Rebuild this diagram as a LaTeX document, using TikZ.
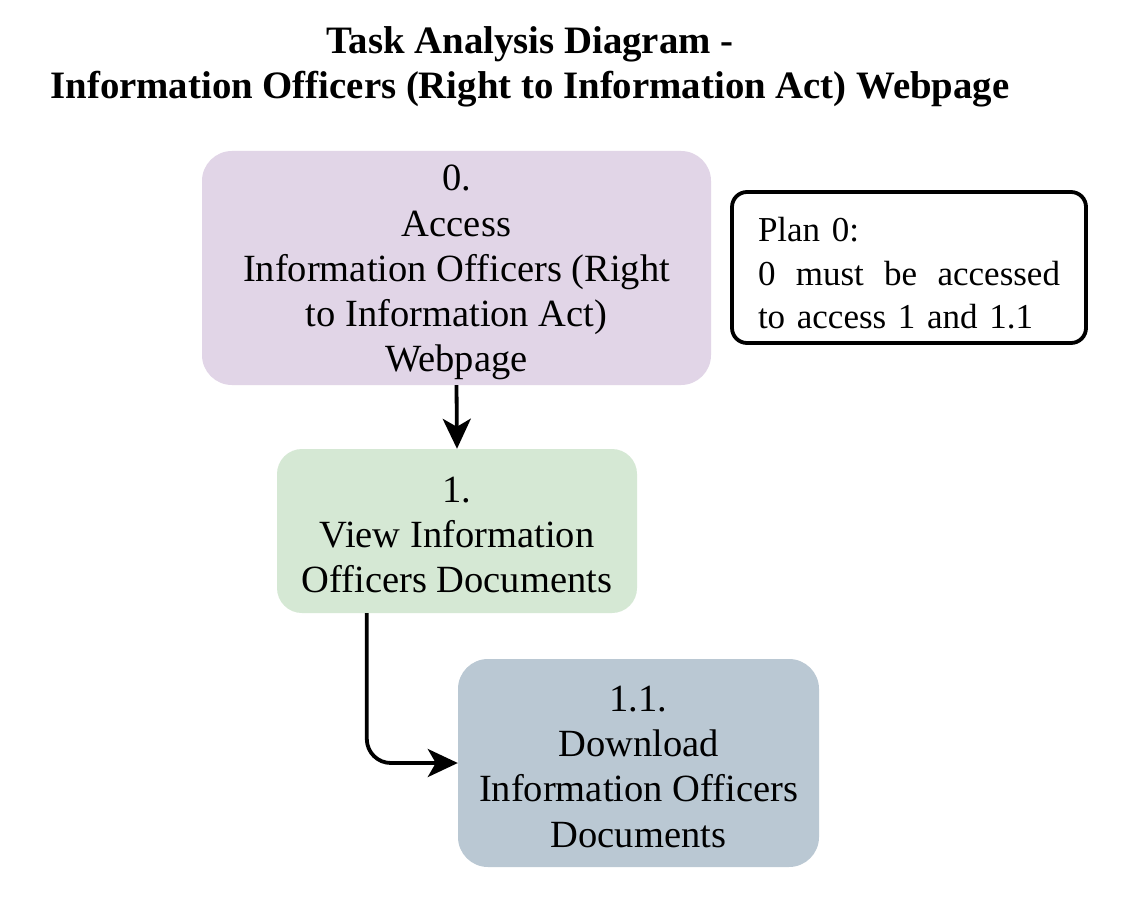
\documentclass[tikz,border=0pt]{standalone}
\usepackage{fontspec}
\setmainfont{Liberation Serif}
\usetikzlibrary{arrows.meta,calc}
\definecolor{purplebox}{HTML}{E1D5E7}
\definecolor{greenbox}{HTML}{D5E8D4}
\definecolor{bluebox}{HTML}{BAC8D3}
\tikzset{
  taskbox/.style={rectangle, align=center, inner sep=0pt,
    font=\fontsize{38.5}{45.3}\selectfont},
  planbox/.style={rectangle, draw=black, line width=3.8pt, fill=white,
    rounded corners=15pt, inner xsep=26pt, inner ysep=0pt, text width=302pt,
    align=left, font=\fontsize{35}{43.5}\selectfont},
  titletext/.style={align=center, font=\bfseries\fontsize{38.8}{45.5}\selectfont},
  flow/.style={line width=3.8pt, draw=black,
    -{Stealth[length=30pt,width=28pt,inset=8pt]}}
}
\begin{document}
\begin{tikzpicture}[x=1pt,y=-1pt]
\useasboundingbox (0,0) rectangle (1142,904);
\fill[white] (0,0) rectangle (1142,904);

\node[titletext] (title) at (530,67) {Task Analysis Diagram -\\Information Officers (Right to Information Act) Webpage};

\node[taskbox, fill=purplebox, rounded corners=30pt, minimum width=509pt, minimum height=234pt]
  (b0) at (456.5,268) {\rule{0pt}{35pt}0.\\Access\\Information Officers (Right\\to Information Act)\\Webpage};

\node[planbox, minimum width=352pt, minimum height=151pt] (plan) at (909,267.5)
  {\rule{0pt}{36pt}Plan 0:\\\makebox[302pt][s]{0\hfill must\hfill be\hfill accessed}\\to access 1 and 1.1};

\node[taskbox, fill=greenbox, rounded corners=25pt, minimum width=360pt, minimum height=164pt]
  (b1) at (457,531) {\rule{0pt}{33pt}1.\\View Information\\Officers Documents};

\node[taskbox, fill=bluebox, rounded corners=30pt, minimum width=361pt, minimum height=208pt]
  (b11) at (638.5,763) {\rule{0pt}{33pt}1.1.\\Download\\Information Officers\\Documents};

\draw[flow] (b0.south) -- (b1.north);
\coordinate (b1out) at ($(b1.south west)+(90,0)$);
\draw[flow, rounded corners=24pt] (b1out) |- (b11.west);
\end{tikzpicture}
\end{document}
